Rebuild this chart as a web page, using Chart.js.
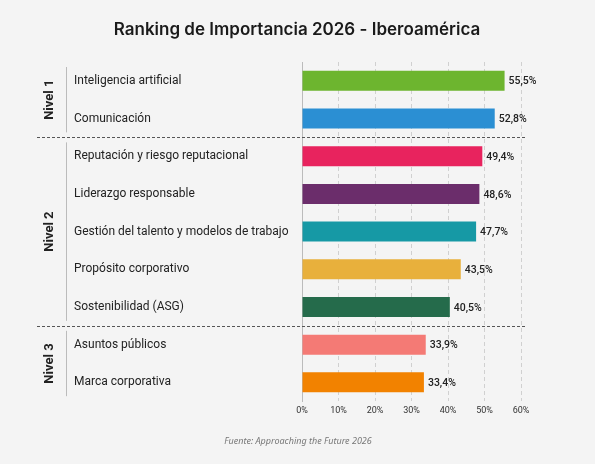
<!DOCTYPE html>
<html><head><meta charset="utf-8">
<script src="https://cdn.jsdelivr.net/npm/chart.js@4"></script>
<style>html,body{margin:0;background:#f4f4f4}#wrap{width:595px;height:464px}</style>
</head><body><div id="wrap"><canvas id="c"></canvas></div>
<script>
const categorias = ["Inteligencia artificial","Comunicación","Reputación y riesgo reputacional","Liderazgo responsable","Gestión del talento y modelos de trabajo","Propósito corporativo","Sostenibilidad (ASG)","Asuntos públicos","Marca corporativa"];
const valores = [55.5,52.8,49.4,48.6,47.7,43.5,40.5,33.9,33.4];
const colores = ["#6db52f","#2b8fd3","#e8235e","#6b2d6b","#1699a5","#e8b03c","#256b4b","#f47a75","#f28200"];
const niveles = [{nombre:"Nivel 1",desde:0,hasta:1},{nombre:"Nivel 2",desde:2,hasta:6},{nombre:"Nivel 3",desde:7,hasta:8}];
const ticksX = [0,10,20,30,40,50,60];

const fmt = v => v.toFixed(1).replace(".", ",") + "%";

const decoracion = {
  id: "decoracion",
  afterDraw(chart) {
    const c = chart.ctx, y = chart.scales.y, a = chart.chartArea;
    c.save();
    c.fillStyle = "#1a1a1a";
    c.font = "600 17px Inter, 'Noto Sans', sans-serif";
    c.textAlign = "center"; c.textBaseline = "middle";
    c.fillText("Ranking de Importancia 2026 - Iberoamérica", 297, 30);
    c.font = "italic 9px 'Noto Sans', sans-serif";
    c.fillStyle = "#777";
    c.fillText("Fuente: Approaching the Future 2026", 298, 441);
    // etiquetas de categoría
    c.textAlign = "left";
    c.fillStyle = "#222";
    c.font = "12px Roboto, sans-serif";
    categorias.forEach((t, i) => c.fillText(t, 74, y.getPixelForValue(i)));
    // valores
    const meta = chart.getDatasetMeta(0);
    c.font = "500 10.5px Roboto, sans-serif";
    meta.data.forEach((b, i) => c.fillText(fmt(valores[i]), b.x + 4, b.y + 1));
    // niveles
    const paso = y.getPixelForValue(1) - y.getPixelForValue(0);
    niveles.forEach((n, k) => {
      const top = y.getPixelForValue(n.desde) - paso / 2 + 5;
      const bot = y.getPixelForValue(n.hasta) + paso / 2 - 5;
      c.strokeStyle = "#bbb"; c.lineWidth = 1; c.setLineDash([]);
      c.beginPath(); c.moveTo(66.5, top); c.lineTo(66.5, bot); c.stroke();
      c.save();
      c.translate(50, (top + bot) / 2); c.rotate(-Math.PI / 2);
      c.textAlign = "center"; c.fillStyle = "#222";
      c.font = "bold 13px Roboto, sans-serif";
      c.fillText(n.nombre, 0, 0);
      c.restore();
      if (k > 0) {
        const ys = Math.round(y.getPixelForValue(n.desde) - paso / 2) + 0.5;
        c.strokeStyle = "#555"; c.setLineDash([3, 2]);
        c.beginPath(); c.moveTo(37, ys); c.lineTo(a.right + 4, ys); c.stroke();
      }
    });
    c.restore();
  }
};

new Chart(document.getElementById("c"), {
  type: "bar",
  data: { labels: categorias, datasets: [{ data: valores, backgroundColor: colores, barPercentage: 0.53, categoryPercentage: 1 }] },
  options: {
    indexAxis: "y", responsive: true, maintainAspectRatio: false, animation: false,
    layout: { padding: { left: 294, right: 74, top: 62, bottom: 44 } },
    plugins: { legend: { display: false }, tooltip: { enabled: false } },
    scales: {
      x: {
        min: 0, max: 60,
        afterBuildTicks: s => { s.ticks = ticksX.map(v => ({ value: v })); },
        ticks: { callback: v => v + "%", color: "#333", font: { size: 9, family: "Roboto" }, padding: 4 },
        grid: { color: "#d0d0d0", drawTicks: false },
        border: { display: true, color: "rgba(0,0,0,0)", dash: [4, 3] }
      },
      y: {
        ticks: { display: false },
        grid: { display: false },
        border: { color: "#bbb" }
      }
    }
  },
  plugins: [decoracion]
});
</script></body></html>
